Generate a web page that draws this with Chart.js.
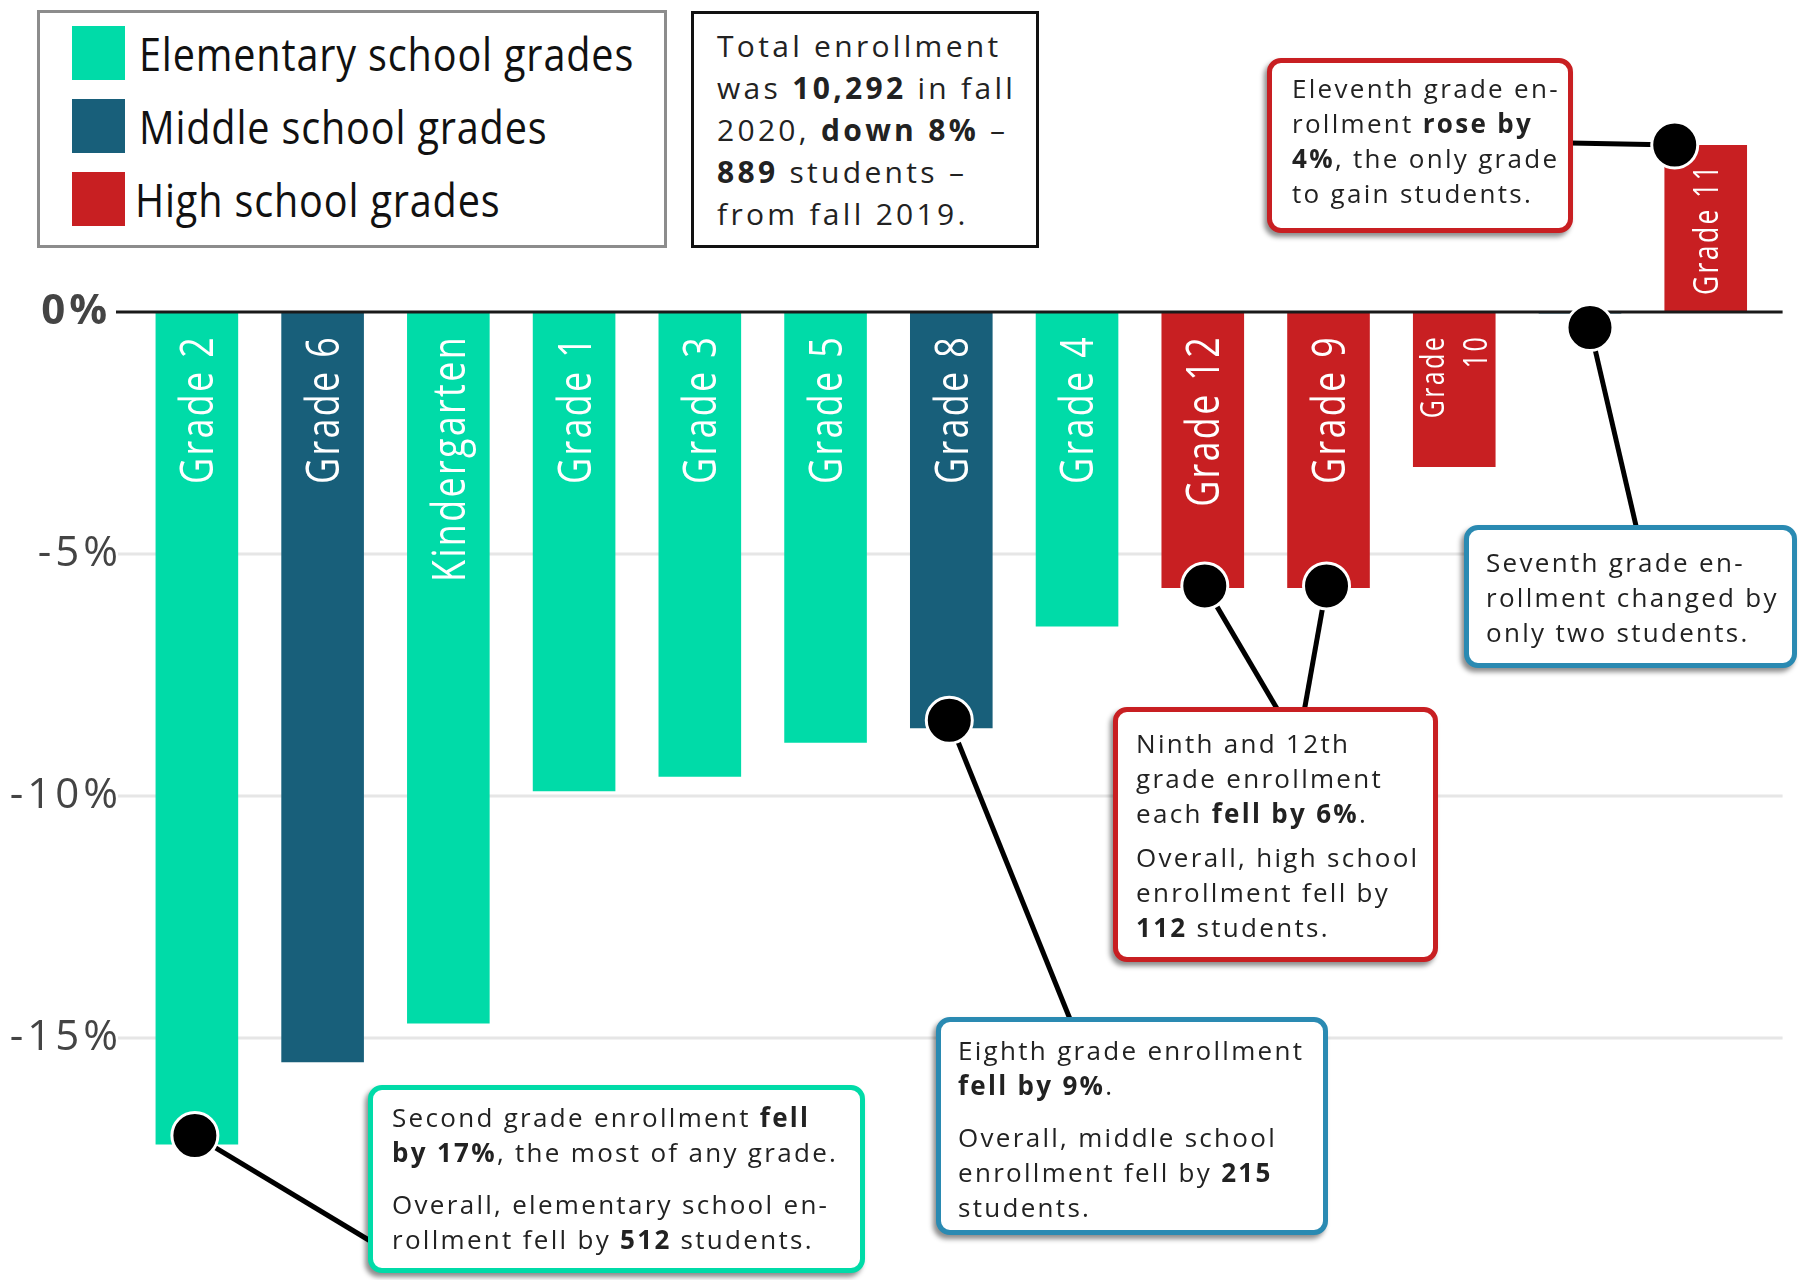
<!DOCTYPE html>
<html>
<head>
<meta charset="utf-8">
<title>Enrollment change by grade, fall 2019 to fall 2020</title>
<script src="https://cdn.jsdelivr.net/npm/chart.js@4.4.1/dist/chart.umd.min.js"></script>
<style>
  html, body { margin: 0; padding: 0; background: #fff; }
  #wrap { position: relative; width: 1812px; height: 1280px; overflow: hidden; font-family: 'Open Sans', 'Noto Sans', sans-serif; }
  #chartCanvas { position: absolute; left: 0; top: 0; }

  .legend { position: absolute; left: 37px; top: 10px; width: 630px; height: 238px; box-sizing: border-box; border: 3px solid #8c8c8c; background: #fff; }
  .legend .sw { position: absolute; left: 32px; width: 53px; height: 54px; }
  .legend .txt { position: absolute; left: 99px; font-size: 46px; line-height: 46px; letter-spacing: 1px; color: #111; white-space: nowrap; transform: scaleX(0.86); transform-origin: left center; }

  .total { position: absolute; left: 691px; top: 11px; width: 348px; height: 237px; box-sizing: border-box; border: 3px solid #111; background: #fff;
           padding: 11px 0 0 23px; font-size: 30px; line-height: 42px; letter-spacing: 3.3px; color: #222; white-space: nowrap; }

  .note { position: absolute; box-sizing: border-box; background: #fff; border: 5px solid; border-radius: 14px;
          box-shadow: -3px 4px 5px rgba(0, 0, 0, 0.45); font-size: 26px; line-height: 35px; letter-spacing: 2.3px; color: #222; white-space: nowrap; }
  .note p { margin: 0; }
  .note b, .total b { font-weight: 700; }
  .green { border-color: #00DBA8; }
  .red { border-color: #C81F22; }
  .blue { border-color: #2A8AB2; }
</style>
</head>
<body>
<div id="wrap">
  <canvas id="chartCanvas" width="1812" height="1280"></canvas>

  <div class="legend" id="legend"></div>

  <div class="total">Total enrollment<br>was <b>10,292</b> in fall<br>2020, <b>down 8%</b> –<br><b>889</b> students –<br>from fall 2019.</div>

  <div class="note red" style="left:1267px; top:58px; width:306px; height:175px; padding:8px 0 0 20px;">
    <p>Eleventh grade en-<br>rollment <b>rose by</b><br><b>4%</b>, the only grade<br>to gain students.</p>
  </div>

  <div class="note blue" style="left:1464px; top:525px; width:333px; height:143px; padding:15px 0 0 17px;">
    <p>Seventh grade en-<br>rollment changed by<br>only two students.</p>
  </div>

  <div class="note red" style="left:1113px; top:707px; width:325px; height:255px; padding:14px 0 0 18px;">
    <p>Ninth and 12th<br>grade enrollment<br>each <b>fell by 6%</b>.</p>
    <p style="margin-top:9px;">Overall, high school<br>enrollment fell by<br><b>112</b> students.</p>
  </div>

  <div class="note blue" style="left:936px; top:1017px; width:392px; height:218px; padding:11px 0 0 17px;">
    <p>Eighth grade enrollment<br><b>fell by 9%</b>.</p>
    <p style="margin-top:17px;">Overall, middle school<br>enrollment fell by <b>215</b><br>students.</p>
  </div>

  <div class="note green" style="left:368px; top:1085px; width:497px; height:188px; padding:10px 0 0 19px;">
    <p>Second grade enrollment <b>fell</b><br><b>by 17%</b>, the most of any grade.</p>
    <p style="margin-top:17px;">Overall, elementary school en-<br>rollment fell by <b>512</b> students.</p>
  </div>
</div>

<script>
(function() {
  'use strict';

  // Percent change in enrollment, fall 2019 to fall 2020
  var categories = ['Grade 2', 'Grade 6', 'Kindergarten', 'Grade 1', 'Grade 3', 'Grade 5', 'Grade 8',
                    'Grade 4', 'Grade 12', 'Grade 9', 'Grade 10', 'Grade 7', 'Grade 11'];
  var levels = ['elementary', 'middle', 'elementary', 'elementary', 'elementary', 'elementary', 'middle',
                'elementary', 'high', 'high', 'high', 'middle', 'high'];
  var pctChange = [-17.2, -15.5, -14.7, -9.9, -9.6, -8.9, -8.6, -6.5, -5.7, -5.7, -3.2, -0.03, 3.45];
  var tickValues = [0, -5, -10, -15];

  var levelNames = ['elementary', 'middle', 'high'];
  var levelLabels = ['Elementary school grades', 'Middle school grades', 'High school grades'];
  var levelColors = { elementary: '#00DBA8', middle: '#185F7A', high: '#C81F22' };

  // callout dots sit near the end of a bar, lines run to the note boxes
  var callouts = [
    { cat: 'Grade 2', dx: -2, dy: -9, to: [372, 1242] },
    { cat: 'Grade 8', dx: -2, dy: -8, to: [1072, 1024] },
    { cat: 'Grade 12', dx: 2, dy: -2, to: [1279, 712] },
    { cat: 'Grade 9', dx: -2, dy: -2, to: [1304, 712] },
    { cat: 'Grade 7', dx: 10, dy: 14, to: [1637, 530] },
    { cat: 'Grade 11', dx: -31, dy: 0, to: [1570, 143] }
  ];

  var LABEL_FONT = '"Open Sans", "Noto Sans", sans-serif';
  var SQUEEZE = 0.78;

  function buildLegend() {
    var box = document.getElementById('legend');
    var html = '';
    levelNames.forEach(function(name, i) {
      var top = 13 + i * 73;
      html += '<div class="sw" style="top:' + top + 'px;background:' + levelColors[name] + '"></div>';
      html += '<div class="txt" style="top:' + (top + 4) + 'px;' + (i === 2 ? 'left:95px;' : '') + '">' + levelLabels[i] + '</div>';
    });
    box.innerHTML = html;
  }

  function drawBarLabels(chart) {
    var ctx = chart.ctx;
    var meta = chart.getDatasetMeta(0);
    var zeroY = chart.scales.y.getPixelForValue(0);

    meta.data.forEach(function(bar, i) {
      var text = categories[i];
      var room = Math.abs(bar.base - bar.y) - 30;
      if (room < 40) return;

      ctx.save();
      if ('letterSpacing' in ctx) ctx.letterSpacing = '3px';
      var size = 46;
      var lines = [text];
      ctx.font = size + 'px ' + LABEL_FONT;
      if (ctx.measureText(text).width * SQUEEZE > room) {
        size = 34;
        ctx.font = size + 'px ' + LABEL_FONT;
        if (ctx.measureText(text).width * SQUEEZE > room) {
          size = 32;
          ctx.font = size + 'px ' + LABEL_FONT;
          lines = text.split(' ');
        }
      }

      var cap = size * 0.714;
      var gap = size * 1.34;
      var negative = pctChange[i] < 0;
      ctx.translate(bar.x, negative ? zeroY + 23 : zeroY - 17);
      ctx.rotate(-Math.PI / 2);
      ctx.scale(SQUEEZE, 1);
      ctx.fillStyle = '#ffffff';
      ctx.textAlign = negative ? 'right' : 'left';
      ctx.textBaseline = 'alphabetic';
      lines.forEach(function(line, j) {
        var off = cap / 2 + (j - (lines.length - 1) / 2) * gap;
        ctx.fillText(line, 0, off);
      });
      ctx.restore();
    });
  }

  function drawCallouts(chart) {
    var ctx = chart.ctx;
    var meta = chart.getDatasetMeta(0);
    var dots = callouts.map(function(c) {
      var bar = meta.data[categories.indexOf(c.cat)];
      return { x: bar.x + c.dx, y: bar.y + c.dy, to: c.to };
    });

    ctx.save();
    ctx.strokeStyle = '#000';
    ctx.lineWidth = 5;
    dots.forEach(function(d) {
      ctx.beginPath();
      ctx.moveTo(d.x, d.y);
      ctx.lineTo(d.to[0], d.to[1]);
      ctx.stroke();
    });
    dots.forEach(function(d) {
      ctx.beginPath();
      ctx.arc(d.x, d.y, 23, 0, Math.PI * 2);
      ctx.fillStyle = '#000';
      ctx.fill();
      ctx.lineWidth = 3;
      ctx.strokeStyle = '#fff';
      ctx.stroke();
    });
    ctx.restore();
  }

  var refLines = {
    id: 'refLines',
    beforeDraw: function(chart) {
      // wider tracking for the axis labels, as in the original
      if ('letterSpacing' in chart.ctx) chart.ctx.letterSpacing = '4px';
    },
    beforeDatasetsDraw: function(chart) {
      var ctx = chart.ctx;
      var area = chart.chartArea;
      var y = chart.scales.y;
      if ('letterSpacing' in ctx) ctx.letterSpacing = '0px';
      ctx.save();
      ctx.strokeStyle = '#e6e6e6';
      ctx.lineWidth = 3;
      tickValues.forEach(function(v) {
        if (v === 0) return;
        var py = y.getPixelForValue(v);
        ctx.beginPath();
        ctx.moveTo(area.left - 16, py);
        ctx.lineTo(area.right + 14, py);
        ctx.stroke();
      });
      ctx.restore();
    },
    afterDatasetsDraw: function(chart) {
      var ctx = chart.ctx;
      var area = chart.chartArea;
      var zeroY = chart.scales.y.getPixelForValue(0);
      drawBarLabels(chart);
      ctx.save();
      ctx.strokeStyle = '#1a1a1a';
      ctx.lineWidth = 3;
      ctx.beginPath();
      ctx.moveTo(area.left - 18, zeroY);
      ctx.lineTo(area.right + 14, zeroY);
      ctx.stroke();
      ctx.restore();
      drawCallouts(chart);
    }
  };

  function init() {
    buildLegend();
    var ctx = document.getElementById('chartCanvas').getContext('2d');
    new Chart(ctx, {
      type: 'bar',
      data: {
        labels: categories,
        datasets: [{
          label: 'Change in enrollment',
          data: pctChange,
          backgroundColor: levels.map(function(l) { return levelColors[l]; }),
          borderWidth: 0,
          barPercentage: 0.657,
          categoryPercentage: 1
        }]
      },
      options: {
        responsive: false,
        animation: false,
        devicePixelRatio: 1,
        layout: { padding: { top: 70, bottom: 0, left: 0, right: 43.4 } },
        plugins: { legend: { display: false }, tooltip: { enabled: false } },
        scales: {
          x: { display: false },
          y: {
            min: -20,
            max: 5,
            grid: { display: false, drawTicks: false },
            border: { display: false },
            afterFit: function(scale) {
              scale.width = 134;
              scale.paddingTop = 0;
              scale.paddingBottom = 0;
            },
            ticks: {
              stepSize: 5,
              autoSkip: false,
              padding: 12,
              color: '#444',
              font: function(c) {
                var zero = c.tick && c.tick.value === 0;
                return { family: '"Open Sans", "Noto Sans", sans-serif', size: 42, weight: zero ? 'bold' : 'normal' };
              },
              callback: function(v) {
                if (tickValues.indexOf(v) < 0) return null;
                return v === 0 ? '0%\u2009' : v + '%';
              }
            }
          }
        }
      },
      plugins: [refLines]
    });
  }

  document.addEventListener('DOMContentLoaded', init);
})();
</script>
</body>
</html>
